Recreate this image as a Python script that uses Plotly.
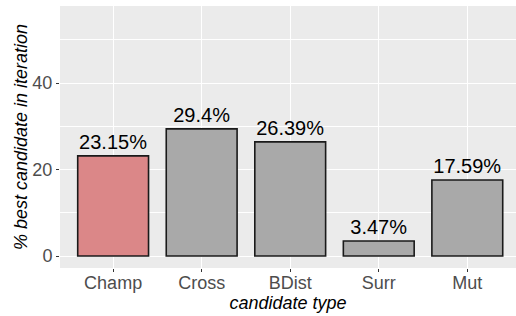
import plotly.graph_objects as go

categories = ["Champ", "Cross", "BDist", "Surr", "Mut"]
values = [23.15, 29.4, 26.39, 3.47, 17.59]
labels = ["23.15%", "29.4%", "26.39%", "3.47%", "17.59%"]
bar_colors = ["#DB8788", "#A9A9A9", "#A9A9A9", "#A9A9A9", "#A9A9A9"]
y_ticks = [0, 20, 40]

fig = go.Figure()
fig.add_trace(go.Bar(
    x=categories, y=values, text=labels, textposition="outside",
    textfont=dict(size=20, color="black", family="Liberation Sans, Arial"),
    marker=dict(color=bar_colors, line=dict(color="#1a1a1a", width=1.6)),
    width=0.8, cliponaxis=False, constraintext="none", hoverinfo="skip",
))

fig.update_layout(
    width=516, height=316,
    margin=dict(l=60, r=0, t=6, b=48),
    paper_bgcolor="white", plot_bgcolor="#EBEBEB",
    font=dict(family="Liberation Sans, Arial", size=18, color="#4D4D4D"),
    showlegend=False,
    bargap=0.2,
)
fig.update_xaxes(
    range=[-0.6, 4.55], showgrid=True, gridcolor="white", gridwidth=1.2,
    ticks="outside", ticklen=3, tickcolor="#333333", tickwidth=1.2,
    ticklabelstandoff=-5,
    tickfont=dict(size=18, color="#4D4D4D"), zeroline=False,
    title=dict(text="<i>candidate type</i>", font=dict(size=18, color="black"), standoff=0),
)
fig.update_yaxes(
    range=[-2.77, 57.8], tickvals=y_ticks, showgrid=True, gridcolor="white", gridwidth=1.2,
    ticks="outside", ticklen=3, tickcolor="#333333", tickwidth=1.2,
    tickfont=dict(size=18, color="#4D4D4D"), zeroline=False,
    minor=dict(tickvals=[10, 30, 50], showgrid=True, gridcolor="white", gridwidth=0.6),
    title=dict(text="<i>% best candidate in iteration</i>", font=dict(size=18, color="black"), standoff=0),
)

fig.write_html("out.html", config={"displayModeBar": False},
               post_script="document.body.style.margin='0';document.body.style.overflow='hidden';")
